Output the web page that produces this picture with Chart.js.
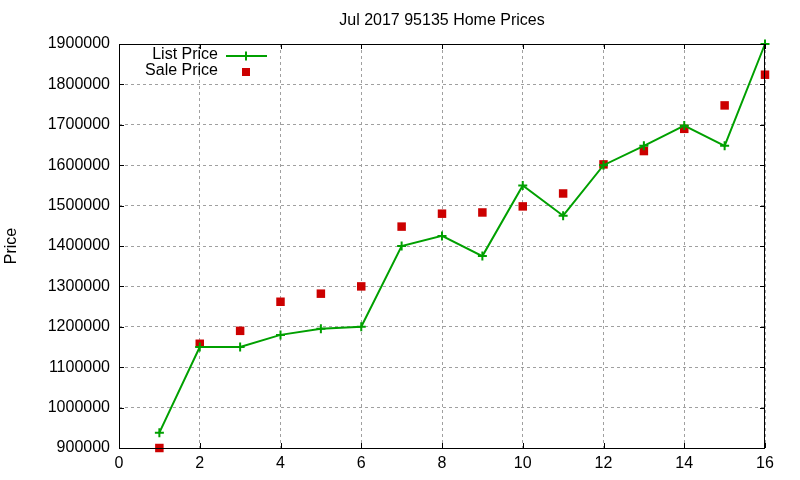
<!DOCTYPE html>
<html>
<head>
<meta charset="utf-8">
<script src="https://cdn.jsdelivr.net/npm/chart.js@4"></script>
<style>
  html, body { margin: 0; padding: 0; background: #ffffff; }
  canvas { display: block; }
</style>
</head>
<body>
<canvas id="myChart" width="800" height="480"></canvas>
<script>
// dados
const months = [1, 2, 3, 4, 5, 6, 7, 8, 9, 10, 11, 12, 13, 14, 15, 16];
const listPrices = [938000, 1150000, 1150000, 1180000, 1195000, 1200000, 1400000, 1425000,
                    1375000, 1550000, 1475000, 1600000, 1648000, 1698000, 1648000, 1900000];
const salePrices = [900000, 1158000, 1190000, 1262000, 1282000, 1300000, 1448000, 1480000,
                    1483000, 1498000, 1530000, 1602000, 1635000, 1690000, 1748000, 1824000];
const xTicks = [0, 2, 4, 6, 8, 10, 12, 14, 16];
const yTicks = [900000, 1000000, 1100000, 1200000, 1300000, 1400000, 1500000,
                1600000, 1700000, 1800000, 1900000];

const GREEN = '#00a000';
const RED = '#cc0000';
const FONT = '"Liberation Sans", Arial, sans-serif';
const FONT_SIZE = 16;

// título, moldura, marcas internas e legenda no estilo gnuplot
const gnuplotLook = {
    id: 'gnuplotLook',
    afterDraw(chart) {
        const ctx = chart.ctx;
        const a = chart.chartArea;
        const xs = chart.scales.x;
        const ys = chart.scales.y;
        ctx.save();

        // moldura
        ctx.strokeStyle = '#000000';
        ctx.lineWidth = 1;
        ctx.strokeRect(a.left + 0.5, a.top + 0.5, a.right - a.left - 1, a.bottom - a.top);

        // marcas internas (espelhadas)
        const tl = 5;
        ctx.beginPath();
        xTicks.forEach(v => {
            const px = Math.round(xs.getPixelForValue(v)) + 0.5;
            ctx.moveTo(px, a.bottom); ctx.lineTo(px, a.bottom - tl);
            ctx.moveTo(px, a.top); ctx.lineTo(px, a.top + tl);
        });
        yTicks.forEach(v => {
            const py = Math.round(ys.getPixelForValue(v)) + 0.5;
            ctx.moveTo(a.left, py); ctx.lineTo(a.left + tl, py);
            ctx.moveTo(a.right, py); ctx.lineTo(a.right - tl, py);
        });
        ctx.stroke();

        // título
        ctx.fillStyle = '#000000';
        ctx.font = FONT_SIZE + 'px ' + FONT;
        ctx.textAlign = 'center';
        ctx.textBaseline = 'middle';
        ctx.fillText('Jul 2017 95135 Home Prices', (a.left + a.right) / 2, 21);

        // legenda
        ctx.textAlign = 'right';
        ctx.fillText('List Price', 218, 55);
        ctx.fillText('Sale Price', 218, 71);

        ctx.strokeStyle = GREEN;
        ctx.lineWidth = 2;
        ctx.beginPath();
        ctx.moveTo(226, 56); ctx.lineTo(267, 56);
        ctx.moveTo(246, 51.5); ctx.lineTo(246, 60.5);
        ctx.stroke();

        ctx.fillStyle = RED;
        ctx.fillRect(242, 68, 8, 8);

        ctx.restore();
    }
};

const ctx = document.getElementById('myChart').getContext('2d');

new Chart(ctx, {
    type: 'line',
    data: {
        datasets: [
            {
                label: 'List Price',
                data: months.map((m, i) => ({ x: m, y: listPrices[i] })),
                borderColor: GREEN,
                backgroundColor: GREEN,
                borderWidth: 2,
                pointStyle: 'cross',
                pointRadius: 4.5,
                pointBorderWidth: 2,
                pointHoverRadius: 4.5,
                tension: 0,
                clip: false
            },
            {
                label: 'Sale Price',
                data: months.map((m, i) => ({ x: m, y: salePrices[i] })),
                showLine: false,
                borderColor: RED,
                backgroundColor: RED,
                pointStyle: 'rect',
                pointRadius: 6,
                pointBorderWidth: 0,
                pointHoverRadius: 6,
                clip: false
            }
        ]
    },
    options: {
        responsive: false,
        devicePixelRatio: 1,
        animation: false,
        layout: { padding: { top: 44, right: 35, bottom: 0, left: 0 } },
        plugins: {
            legend: { display: false },
            title: { display: false },
            tooltip: { enabled: false }
        },
        scales: {
            x: {
                type: 'linear',
                min: 0,
                max: 16,
                afterFit: scale => { scale.height = 32; },
                afterBuildTicks: scale => { scale.ticks = xTicks.map(v => ({ value: v })); },
                grid: { color: '#a0a0a0', drawTicks: false, lineWidth: 1 },
                border: { display: false, dash: [3, 3] },
                ticks: {
                    color: '#000000',
                    padding: 6,
                    font: { family: FONT, size: FONT_SIZE },
                    maxRotation: 0,
                    callback: v => String(v)
                }
            },
            y: {
                type: 'linear',
                min: 900000,
                max: 1900000,
                afterFit: scale => { scale.width = 119; },
                afterBuildTicks: scale => { scale.ticks = yTicks.map(v => ({ value: v })); },
                grid: { color: '#a0a0a0', drawTicks: false, lineWidth: 1 },
                border: { display: false, dash: [3, 3] },
                title: {
                    display: true,
                    text: 'Price',
                    color: '#000000',
                    font: { family: FONT, size: FONT_SIZE },
                    padding: { top: 2, bottom: 0 }
                },
                ticks: {
                    color: '#000000',
                    padding: 9,
                    font: { family: FONT, size: FONT_SIZE },
                    callback: v => String(v)
                }
            }
        }
    },
    plugins: [gnuplotLook]
});
</script>
</body>
</html>
